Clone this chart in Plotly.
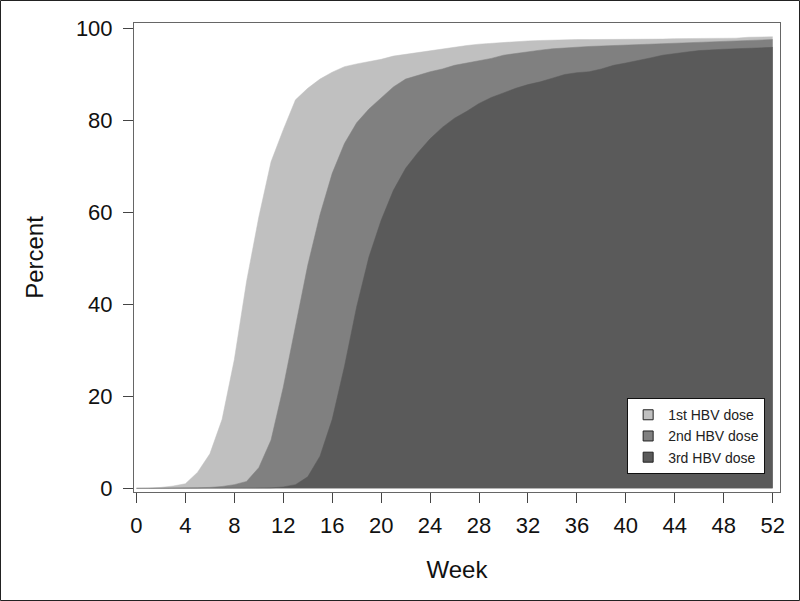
import plotly.graph_objects as go

weeks = list(range(0, 53))

dose1 = [0, 0, 0.2, 0.5, 1, 3.5, 7.5, 15, 28, 45, 59, 71, 78, 84.5, 87, 89, 90.5, 91.7, 92.3, 92.8,
         93.3, 94, 94.4, 94.8, 95.2, 95.6, 96, 96.3, 96.6, 96.8, 97, 97.1, 97.3, 97.4, 97.5, 97.5,
         97.6, 97.6, 97.6, 97.7, 97.7, 97.7, 97.7, 97.7, 97.8, 97.8, 97.8, 97.8, 97.8, 97.9, 98.1,
         98.2, 98.2]
dose2 = [0, 0, 0, 0, 0, 0.1, 0.2, 0.4, 0.8, 1.5, 4.5, 10.5, 22, 35.5, 48.5, 59.5, 68.5, 75, 79.5,
         82.5, 85, 87.3, 89, 89.8, 90.6, 91.2, 92, 92.5, 93, 93.5, 94.2, 94.6, 95, 95.3, 95.6, 95.8,
         96, 96.1, 96.2, 96.3, 96.4, 96.5, 96.6, 96.7, 96.9, 97, 97.1, 97.2, 97.3, 97.4, 97.5, 97.6,
         97.6]
dose3 = [0, 0, 0, 0, 0, 0, 0, 0, 0, 0, 0, 0.1, 0.3, 0.8, 2.5, 7, 15, 26.5, 39.5, 50.3, 58.3, 64.8,
         69.6, 73, 76, 78.5, 80.5, 82, 83.7, 85, 86, 87, 87.8, 88.4, 89.2, 90, 90.4, 90.6, 91.2, 92,
         92.5, 93, 93.6, 94.2, 94.6, 94.9, 95.2, 95.4, 95.5, 95.6, 95.7, 95.8, 95.9]

names = ["1st HBV dose", "2nd HBV dose", "3rd HBV dose"]
colors = ["#c0c0c0", "#808080", "#5a5a5a"]
x_ticks = list(range(0, 53, 4))
y_ticks = [0, 20, 40, 60, 80, 100]

fig = go.Figure()
for name, vals, col in zip(names, [dose1, dose2, dose3], colors):
    fig.add_trace(go.Scatter(
        x=weeks, y=vals, name=name, mode="lines",
        line=dict(color=col, width=0.5),
        fill="tozeroy", fillcolor=col, showlegend=False,
    ))
# legend entries with square swatches
for name, col in zip(names, colors):
    fig.add_trace(go.Scatter(
        x=[None], y=[None], name=name, mode="markers",
        marker=dict(symbol="square", size=10, color=col, line=dict(color="#222", width=1)),
        showlegend=True,
    ))

L, R, T, B = 134, 20, 23, 109
W, H = 800, 601
pw, ph = W - L - R, H - T - B

fig.update_layout(
    width=W, height=H,
    margin=dict(l=L, r=R, t=T, b=B, autoexpand=False),
    paper_bgcolor="white", plot_bgcolor="white",
    font=dict(family="Liberation Sans, Arial, sans-serif", color="#111"),
    showlegend=True,
    legend=dict(
        x=0.977, y=0.038, xanchor="right", yanchor="bottom",
        bgcolor="white", bordercolor="#111", borderwidth=1,
        font=dict(size=14, color="#222"),
        traceorder="normal", itemwidth=30,
        tracegroupgap=0,
    ),
    xaxis=dict(
        range=[-0.2, 52.6], tickvals=x_ticks, ticks="outside", ticklen=10,
        tickcolor="#444", showline=True, linecolor="#666", linewidth=1, mirror=True,
        showgrid=False, zeroline=False, tickfont=dict(size=22), automargin=False,
        ticklabelstandoff=4,
        title=dict(text="Week", font=dict(size=24), standoff=23),
    ),
    yaxis=dict(
        range=[-0.8, 101.2], tickvals=y_ticks, ticks="outside", ticklen=10,
        tickcolor="#444", showline=True, linecolor="#666", linewidth=1, mirror=True,
        showgrid=False, zeroline=False, tickfont=dict(size=22), automargin=False,
        ticklabelstandoff=6,
        title=dict(text="Percent", font=dict(size=24), standoff=25),
    ),
    shapes=[dict(
        type="rect", xref="paper", yref="paper",
        x0=(0.5 - L) / pw, x1=(W - 0.5 - L) / pw,
        y0=(ph - (H - 0.5 - T)) / ph, y1=(ph + T - 0.5) / ph,
        line=dict(color="#222", width=1), fillcolor="rgba(0,0,0,0)", layer="above",
    )],
)

fig.write_html(
    "out.html",
    config={"displayModeBar": False},
    post_script="document.body.style.margin='0';document.body.style.overflow='hidden';",
)
